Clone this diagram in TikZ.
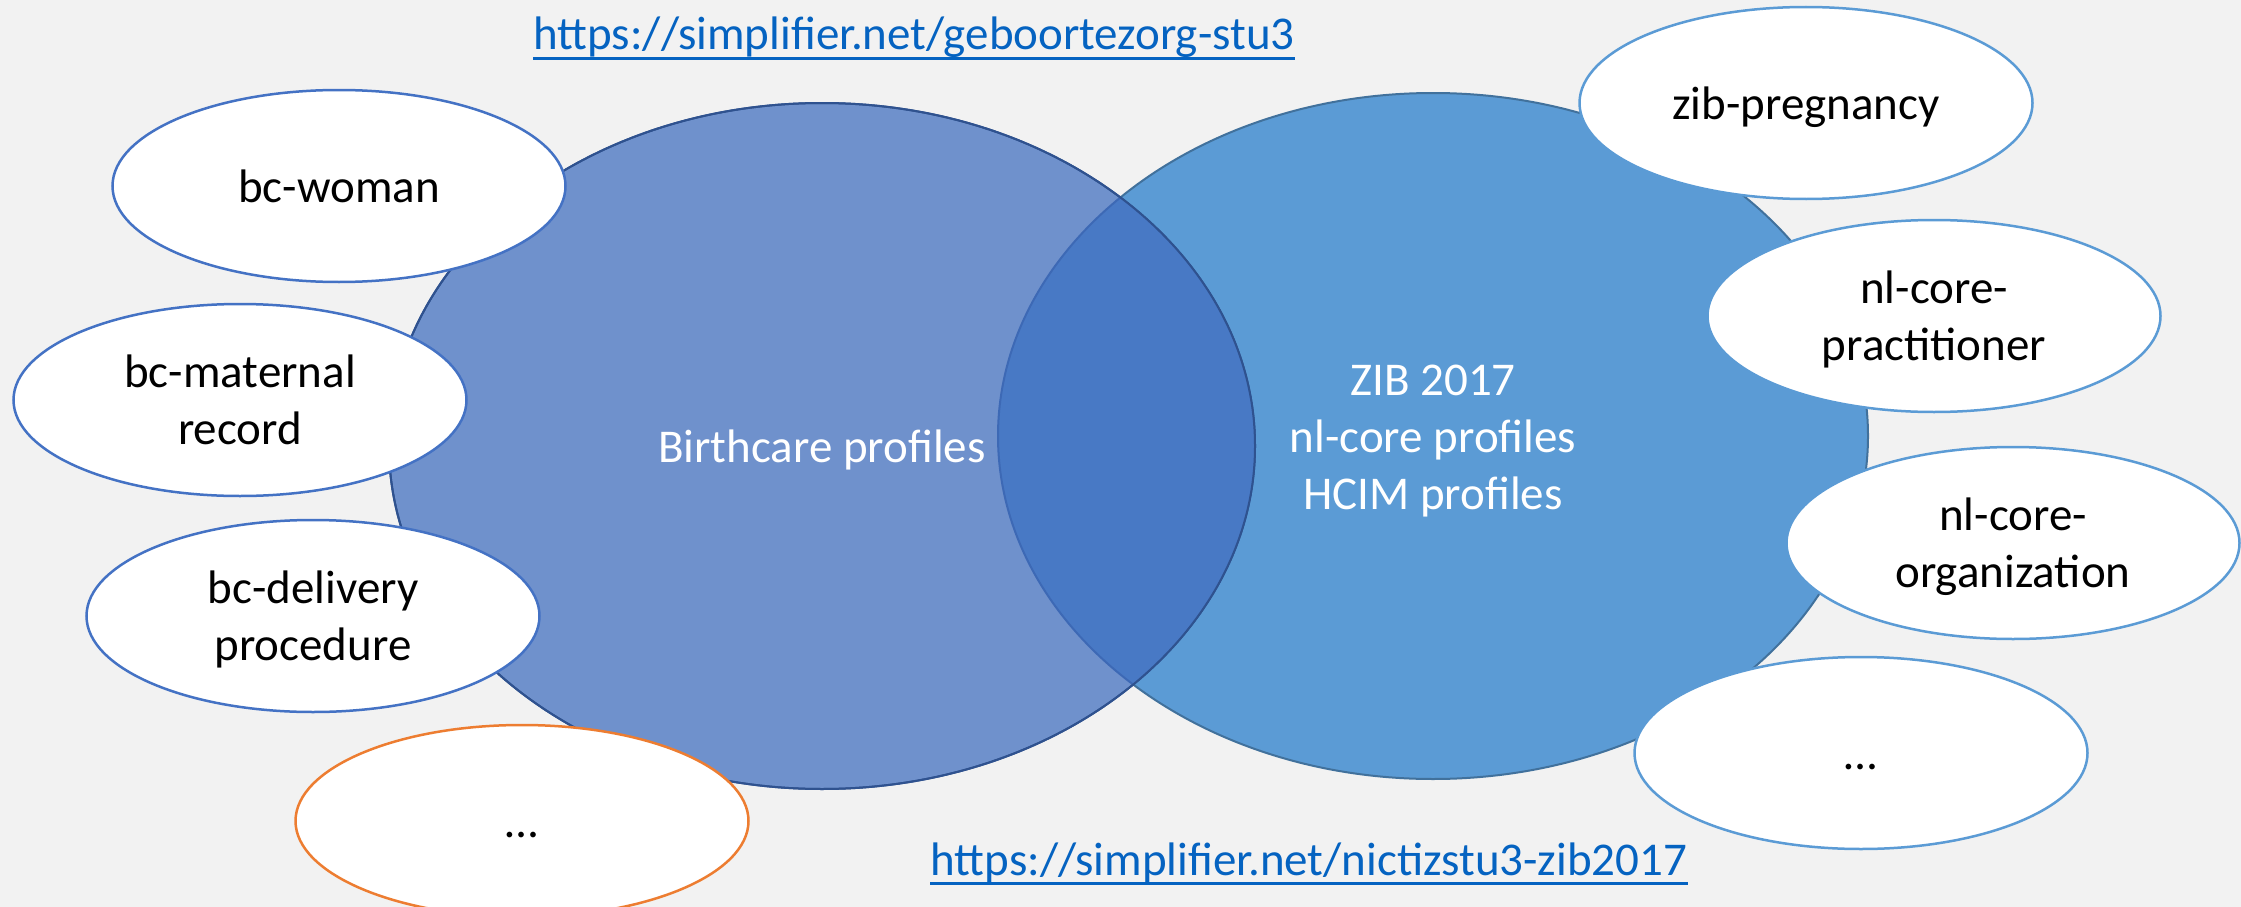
\documentclass[tikz,border=0pt]{standalone}
\usepackage{fontspec}
\setmainfont{Carlito}
\usetikzlibrary{shapes.geometric}
\definecolor{bgc}{HTML}{F2F2F2}
\definecolor{lfill}{HTML}{6F91CC}
\definecolor{rfill}{HTML}{5B9BD5}
\definecolor{ofill}{HTML}{4879C5}
\definecolor{lline}{HTML}{2F528F}
\definecolor{rline}{HTML}{41719C}
\definecolor{oline}{HTML}{3D69B5}
\definecolor{accL}{HTML}{4472C4}
\definecolor{accR}{HTML}{5B9BD5}
\definecolor{accO}{HTML}{ED7D31}
\definecolor{linkc}{HTML}{0563C1}
\newcommand{\ls}{\rule[-12pt]{0pt}{56pt}}
\begin{document}
\begin{tikzpicture}[x=1pt,y=-1pt,
  every node/.style={font=\fontsize{47}{57}\selectfont},
  big/.style={ellipse, inner sep=0pt, outer sep=0pt, line width=2pt, text=white, align=center},
  item/.style={ellipse, inner sep=0pt, minimum width=453pt, minimum height=192pt, fill=white, line width=2.5pt, align=center, text=black},
  itemL/.style={item, draw=accL},
  itemR/.style={item, draw=accR},
  itemO/.style={item, draw=accO},
  urltext/.style={text=linkc, inner sep=0pt, anchor=base},
  urlline/.style={draw=linkc, line width=3pt}
  ]
\path[use as bounding box, fill=bgc] (0,0) rectangle (2241,907);

% big ellipses
\node[big, draw=rline, fill=rfill, minimum width=870pt, minimum height=686pt] (zib) at (1433,436)
  {\ls ZIB 2017\\\ls nl-core profiles\\\ls HCIM profiles};
\node[big, draw=lline, fill=lfill, minimum width=866pt, minimum height=686pt] (birth) at (822,446)
  {\ls Birthcare profiles};
\begin{scope}
  \clip (birth.center) ellipse [x radius=433pt, y radius=343pt];
  \fill[ofill] (zib.center) ellipse [x radius=435pt, y radius=343pt];
  \draw[oline, line width=2pt] (zib.center) ellipse [x radius=435pt, y radius=343pt];
\end{scope}
\draw[lline, line width=2pt] (birth.center) ellipse [x radius=433pt, y radius=343pt];

% small ellipses
\node[itemL] (woman) at (339,186) {\ls bc-woman};
\node[itemL] (maternal) at (240,400) {\ls bc-maternal\\\ls record};
\node[itemL] (delivery) at (313,616) {\ls bc-delivery\\\ls procedure};
\node[itemO] (moreL) at (522,821) {\ls …};
\node[itemR] (preg) at (1806,103) {\ls zib-pregnancy};
\node[itemR] (pract) at (1934,316) {\ls nl-core-\\\ls practitioner};
\node[itemR] (org) at (2013,543) {\ls nl-core-\\\ls organization};
\node[itemR] (moreR) at (1861,753) {\ls …};

% links
\node[urltext] (u1) at (914,50) {https://simplifier.net/geboortezorg-stu3};
\draw[urlline] ([yshift=-8.5pt]u1.base west) -- ([yshift=-8.5pt]u1.base east);
\node[urltext] (u2) at (1309,875) {https://simplifier.net/nictizstu3-zib2017};
\draw[urlline] ([yshift=-8.5pt]u2.base west) -- ([yshift=-8.5pt]u2.base east);
\end{tikzpicture}
\end{document}
